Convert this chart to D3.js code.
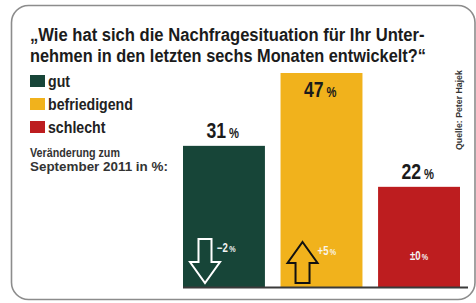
<!DOCTYPE html>
<html>
<head>
<meta charset="utf-8">
<script src="https://cdnjs.cloudflare.com/ajax/libs/d3/7.8.5/d3.min.js"></script>
<style>
  body { margin: 0; background: #fff; }
  svg text { font-family: 'Liberation Sans', Arial, sans-serif; font-weight: bold; }
</style>
</head>
<body>
<svg id="chart" width="476" height="303"></svg>
<script>
// data
const categories = ['gut', 'befriedigend', 'schlecht'];
const values = [31, 47, 22];
const changes = ['\u22122', '+5', '\u00b10'];
const changeDir = ['down', 'up', 'none'];
const titleLines = ['\u201eWie hat sich die Nachfragesituation f\u00fcr Ihr Unter-',
                    'nehmen in den letzten sechs Monaten entwickelt?\u201c'];
const noteLines = ['Ver\u00e4nderung zum', 'September 2011 in %:'];
const source = 'Quelle: Peter Hajek';

const colors = ['#174538', '#f1b21c', '#bd1d1f'];

let svg = d3.select('#chart');

// condensed look: draw the text at (x,y) and squeeze it horizontally,
// either to a target width or by a fixed factor
function addText(parent, x, y, str, size, fill, opt) {
    let t = parent.append('text')
        .attr('x', 0).attr('y', 0)
        .attr('font-size', size)
        .attr('fill', fill)
        .attr('text-anchor', opt.anchor || 'start')
        .text(str);
    let k = opt.k;
    if (opt.width) k = opt.width / t.node().getComputedTextLength();
    t.attr('transform', 'translate(' + x + ',' + y + ') ' + (opt.rotate ? 'rotate(' + opt.rotate + ') ' : '') + 'scale(' + k + ',1)');
    return t;
}

// frame
svg.append('rect')
    .attr('x', 11.5).attr('y', 5.5)
    .attr('width', 463.5).attr('height', 294)
    .attr('rx', 17).attr('ry', 17)
    .attr('fill', '#fff')
    .attr('stroke', '#8c8c8c')
    .attr('stroke-width', 1.6);

// title
addText(svg, 30, 40.5, titleLines[0], 19, '#1b1b1b', {width: 395});
addText(svg, 30, 62, titleLines[1], 19, '#1b1b1b', {width: 396});

// legend
let legK = 0.885;
categories.forEach(function(c, i) {
    let by = 87 + i * 23;
    svg.append('rect')
        .attr('x', 30).attr('y', by - 12)
        .attr('width', 15).attr('height', 12)
        .attr('fill', colors[i]);
    addText(svg, 48, by, c, 16, '#222', {k: legK});
});

addText(svg, 30, 157, noteLines[0], 12, '#333', {width: 90});
addText(svg, 30, 171, noteLines[1], 12, '#333', {width: 138});

// source, rotated
addText(svg, 462, 150, source, 9, '#333', {width: 80, rotate: -90});

// scales
let x = d3.scaleBand().range([183, 460]).paddingInner(0.16).paddingOuter(0)
    .domain(categories);
let y = d3.scaleLinear().range([287, 73]).domain([0, 47]);
let maxV = d3.max(values);

svg.selectAll('.bar')
    .data(categories)
    .enter().append('rect')
    .attr('class', 'bar')
    .attr('x', function(d) { return x(d); })
    .attr('y', function(d, i) { return y(values[i]); })
    .attr('width', x.bandwidth())
    .attr('height', function(d, i) { return y(0) - y(values[i]); })
    .attr('fill', function(d, i) { return colors[i]; });

// value labels, the biggest one sits inside its bar
categories.forEach(function(c, i) {
    let cx = x(c) + x.bandwidth() / 2;
    let ly = values[i] === maxV ? y(values[i]) + 24 : y(values[i]) - 8;
    addText(svg, cx + 2, ly, String(values[i]), 22, '#1b1b1b', {anchor: 'end', k: 0.8});
    addText(svg, cx + 5, ly, '%', 14, '#1b1b1b', {k: 0.8});
});

// change arrows and labels
let downArrow = 'M-6.5,0 L6.5,0 L6.5,23 L15,23 L0,44 L-15,23 L-6.5,23 Z';
let upArrow = 'M0,0 L15,21 L7,21 L7,41 L-7,41 L-7,21 L-15,21 Z';

categories.forEach(function(c, i) {
    let x0 = x(c);
    if (changeDir[i] === 'down') {
        svg.append('path')
            .attr('transform', 'translate(' + (x0 + 22) + ',239)')
            .attr('d', downArrow)
            .attr('fill', 'none').attr('stroke', '#fff').attr('stroke-width', 2);
        let t = addText(svg, x0 + 34, 252, changes[i], 12, '#f4f4f4', {k: 0.8});
        t.append('tspan').attr('dx', 1.5).attr('font-size', 9).text('%');
    } else if (changeDir[i] === 'up') {
        svg.append('path')
            .attr('transform', 'translate(' + (x0 + 22) + ',242)')
            .attr('d', upArrow)
            .attr('fill', 'none').attr('stroke', '#111').attr('stroke-width', 2);
        let t = addText(svg, x0 + 37, 255, changes[i], 12, '#f8f4ea', {k: 0.8});
        t.append('tspan').attr('dx', 1.5).attr('font-size', 9).text('%');
    } else {
        let t = addText(svg, x0 + x.bandwidth() / 2, 260, changes[i], 12, '#f4f4f4', {anchor: 'middle', k: 0.8});
        t.append('tspan').attr('dx', 1.5).attr('font-size', 9).text('%');
    }
});

// baseline
svg.append('line')
    .attr('x1', x.range()[0]).attr('x2', 468)
    .attr('y1', y(0) + 0.5).attr('y2', y(0) + 0.5)
    .attr('stroke', '#3a3a3a')
    .attr('stroke-width', 2);
</script>
</body>
</html>
